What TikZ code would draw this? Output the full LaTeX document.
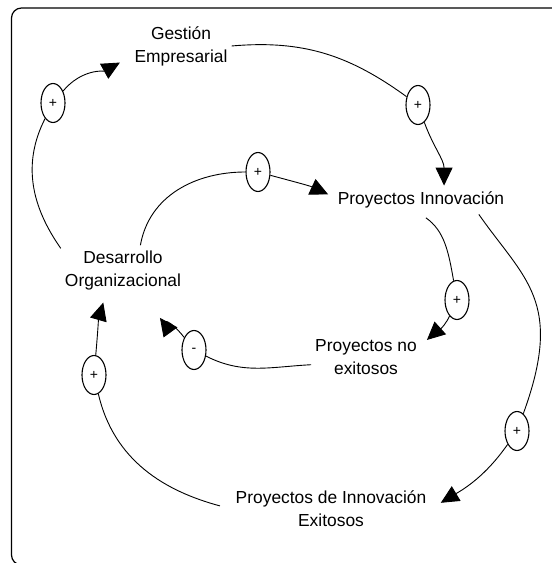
\documentclass[tikz,border=0pt]{standalone}
\usepackage{fontspec}
\setmainfont{Liberation Sans}
\usetikzlibrary{positioning,shapes,arrows.meta}

\begin{document}
\begin{tikzpicture}
[x=1bp, y=1bp,
% The varbox style is used to write the name of each variable
varbox/.style={align=center, inner xsep=4bp, inner ysep=6bp, font=\fontsize{17.4bp}{23bp}\selectfont},
% The signo style is used to draw the polarity of each link
signo/.style={ellipse, draw, line width=1.1bp, minimum width=24bp, minimum height=39bp, inner sep=0pt, font=\fontsize{14bp}{16bp}\selectfont},
link/.style={line width=0.9bp},
flecha/.style={link, -{Triangle[length=18bp,width=17bp]}}
]
\useasboundingbox (0,0) rectangle (552,563);
% Draw frame
\begin{scope}
\clip (0,0) rectangle (552,563);
\draw[line width=1.2bp, rounded corners=10bp] (11.5,-2) rectangle (620,555);
\end{scope}
% Draw variables
\node[varbox] (ges) at (181,517) {Gestión\\Empresarial};
\node[varbox] (pin) at (421,363) {Proyectos Innovación};
\node[varbox] (des) at (123,292) {Desarrollo\\Organizacional};
\node[varbox] (pne) at (366,206) {Proyectos no\\exitosos};
\node[varbox] (pex) at (331,54) {Proyectos de Innovación\\Exitosos};
% Draw signs
\node[signo] (s1) at (53,460) {+};
\node[signo] (s2) at (418,458) {+};
\node[signo] (s3) at (258,391) {+};
\node[signo] (s4) at (457,263) {+};
\node[signo] (s5) at (517,132) {+};
\node[signo] (s6) at (94,188) {+};
\node[signo] (s7) at (194,213) {-};
% Draw links
\draw[link] (des.160) to[out=125,in=-117] (s1);
\draw[flecha, shorten >=12bp] (s1) to[out=50,in=209] (ges.192);
\draw[link] (ges.east) to[out=5,in=144] (s2);
\draw[flecha] (s2) to[out=-70,in=90] (pin.32);
\draw[link] (des.56) to[out=80,in=180] (s3);
\draw[flecha, shorten >=6bp] (s3) to[out=-15,in=155] (pin.178);
\draw[link, shorten <=6bp] (pin.south) to[out=-35,in=100] (s4);
\draw[flecha, shorten >=8bp] (s4) to[out=-115,in=42] (pne.12);
\draw[link] (pin.-14) to[out=-55,in=70,in looseness=1.5] (s5);
\draw[flecha, shorten >=12bp] (s5) to[out=-125,in=31] (pex.east);
\draw[link, shorten <=12bp] (pex.west) to[out=165,in=-77] (s6);
\draw[flecha, shorten >=6bp] (s6) to[out=85,in=-106] (des.-125);
\draw[link] (pne.188) to[out=183,in=-27] (s7);
\draw[flecha, shorten >=26bp] (s7) to[out=128,in=-54] (des.-50);
\end{tikzpicture}
\end{document}
